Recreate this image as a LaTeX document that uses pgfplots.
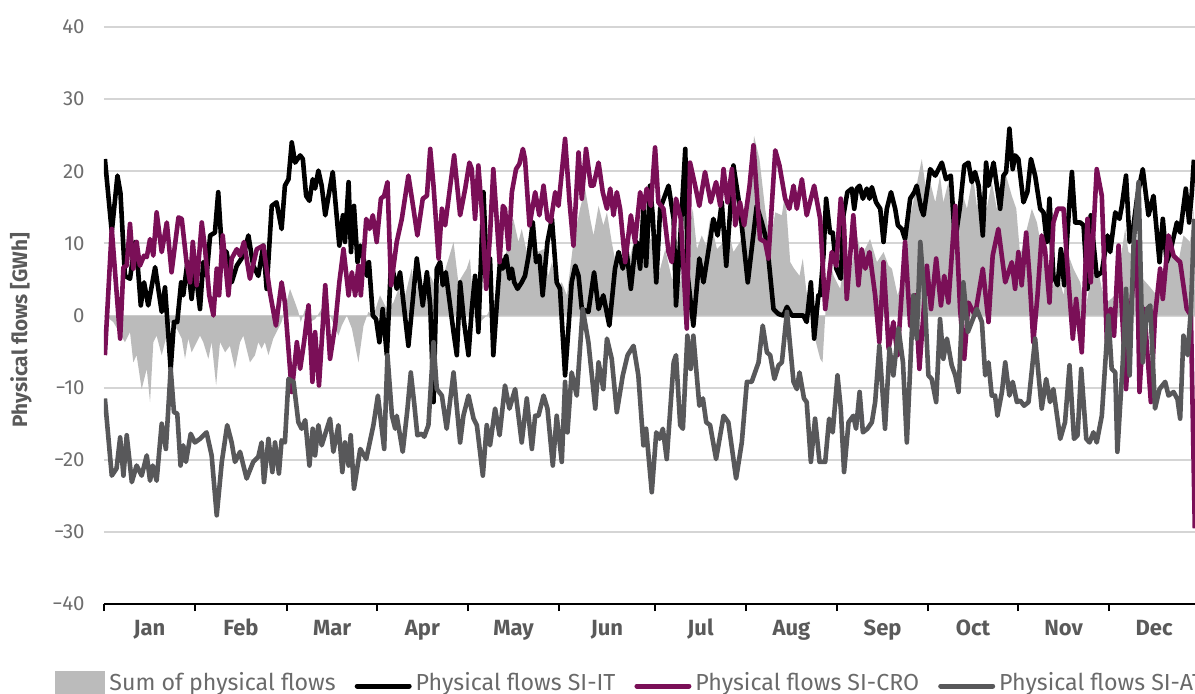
\documentclass[border=0pt]{standalone}
\usepackage{fontspec}
\setmainfont{Fira Sans}
\usepackage{pgfplots}
\pgfplotsset{compat=1.18}
\definecolor{areagray}{HTML}{BBBBBB}
\definecolor{cro}{HTML}{7A0F57}
\definecolor{atgray}{HTML}{58585A}
\definecolor{gridgray}{HTML}{D5D5D5}
\definecolor{ticktext}{HTML}{6E6E6E}
\definecolor{labtext}{HTML}{5A5A5A}
\definecolor{legtext}{HTML}{6A6A6A}
\begin{document}
\begin{tikzpicture}
\begin{axis}[
 scale only axis, width=545.7pt, height=288.5pt,
 xmin=0, xmax=365, ymin=-40, ymax=40,
 axis x line*=bottom, axis y line*=left,
 y axis line style={draw=none},
 x axis line style={black, line width=1pt},
 ytick={-40,-30,...,40},
 yticklabels={−40,−30,−20,−10,0,10,20,30,40},
 ymajorgrids, major grid style={gridgray, line width=1pt},
 xtick={15.2,45.8,76.3,106.5,137.0,168.2,199.5,229.9,260.4,290.6,320.9,351.2},
 xticklabels={Jan,Feb,Mar,Apr,May,Jun,Jul,Aug,Sep,Oct,Nov,Dec},
 minor xtick={0,30.43,61.2,91.3,121.74,152.17,184.28,214.72,245.15,275.59,305.69,336.12},
 tick align=outside, major tick length=0pt, minor tick length=3.5pt,
 minor tick style={black, line width=0.9pt},
 yticklabel style={anchor=east, inner sep=0pt, xshift=-9.5pt, font=\fontsize{10.2}{12}\selectfont, text=ticktext},
 xticklabel style={anchor=base, inner sep=0pt, yshift=-15.5pt, font=\fontsize{11}{12}\selectfont\bfseries, text=labtext},
 legend style={at={(0,0)}, anchor=west, xshift=-24.5pt, yshift=-39.5pt, draw=none, fill=none, inner sep=0pt,
   font=\fontsize{11.6}{13}\selectfont, text=legtext, legend columns=4,
   /tikz/every even column/.append style={column sep=7.5pt}},
 legend cell align=left,
]
\addplot[fill=areagray, draw=none,
  legend image code/.code={\fill[areagray] (0pt,-6pt) rectangle (25pt,6pt);}] coordinates {
(0,0) (0.3,0) (3.1,-0.9) (7.0,-3.7) (8.7,-2.3) (9.8,-6.5) (10.9,-5.5) (12.6,-10.2) (14.3,-7.4) (15.4,-12.0) (16.5,-3.7) (17.6,-2.8) (19.3,-5.5) (20.4,-3.7) (22.1,-0.9) (24.3,-1.8) (26.0,-3.2) (27.1,-6.0) (28.2,-3.2) (29.3,-5.1) (31.0,-3.7) (32.1,-2.8) (33.2,-3.7) (34.9,-6.0) (36.0,-3.7) (37.5,-9.7) (38.8,-3.7) (40.5,-5.1) (42.1,-4.2) (43.8,-7.4) (45.5,-3.7) (46.6,-2.8) (48.8,-6.5) (50.5,-5.5) (51.6,-3.7) (52.7,-4.6) (53.8,-3.7) (55.0,-5.5) (56.6,-3.2) (58.3,-1.8) (59.4,-0.9) (60.5,0.9) (62.2,3.7) (63.9,1.8) (65.0,0.5) (65.8,-0.9) (67.3,0.9) (68.9,-0.9) (70.6,-0.5) (72.8,0.9) (75.6,0) (78.4,-2.8) (79.5,-1.4) (81.2,0) (82.9,-1.8) (85.1,-6.5) (86.8,-1.4) (88.4,0.5) (90.1,0) (92.3,2.8) (94.6,0.9) (96.8,1.8) (98.5,3.7) (99.9,1.4) (102.9,6.5) (104.1,2.8) (105.7,5.5) (107.4,1.8) (109.1,5.5) (111.3,3.7) (113.5,5.5) (116.9,10.2) (118.5,4.6) (121.3,6.5) (122.4,7.9) (123.6,0.9) (125.8,-0.9) (128.0,0) (131.4,2.8) (136.9,13.4) (138.6,10.2) (139.7,12.0) (141.4,8.8) (143.1,13.4) (145.0,8.8) (147.0,9.2) (148.6,5.5) (149.8,7.4) (151.4,3.7) (153.1,4.6) (154.8,2.8) (157.0,10.2) (159.2,14.8) (160.9,17.6) (162.6,13.4) (163.7,11.1) (165.4,15.2) (167.0,12.5) (168.2,14.3) (169.8,10.2) (171.5,6.5) (173.5,8.8) (174.8,6.0) (177.1,10.2) (179.3,7.9) (181.5,11.1) (183.8,10.2) (185.4,5.5) (187.7,9.2) (189.9,5.1) (192.7,4.6) (196.9,14.8) (198.3,9.2) (199.9,11.1) (201.4,9.7) (202.7,13.4) (205.0,9.2) (207.2,10.2) (208.8,12.0) (210.5,8.8) (212.7,10.2) (215.0,13.4) (216.6,20.3) (217.4,24.9) (219.2,21.7) (221.1,14.8) (222.8,10.2) (224.5,14.3) (226.7,13.9) (227.8,17.1) (229.5,7.4) (230.8,6.5) (232.6,5.5) (233.7,7.9) (234.8,3.7) (236.0,0.9) (237.8,-3.2) (239.5,-6.0) (240.3,-6.5) (241.2,0) (242.6,7.9) (244.0,5.5) (246.2,3.7) (247.9,8.3) (249.5,5.5) (251.8,11.1) (253.4,8.3) (256.2,10.6) (258.5,7.4) (260.7,8.8) (262.4,6.9) (263.5,6.5) (265.4,2.8) (267.4,5.5) (269.0,12.5) (271.3,17.1) (273.5,21.7) (275.0,17.1) (276.3,18.5) (278.0,15.7) (279.6,19.4) (280.7,15.7) (282.4,18.5) (283.9,14.8) (285.2,12.9) (286.9,17.1) (288.6,14.8) (290.6,19.4) (291.9,15.2) (293.6,17.1) (295.2,14.8) (296.9,18.5) (298.6,14.8) (300.3,16.6) (301.7,19.4) (303.6,16.6) (305.1,14.8) (306.4,8.3) (308.1,11.1) (310.3,14.8) (312.0,12.9) (314.0,8.3) (316.2,1.8) (318.1,5.5) (319.8,4.6) (320.9,2.8) (322.6,8.3) (324.2,6.5) (326.5,4.6) (328.1,0.5) (329.8,4.6) (332.0,7.4) (333.7,3.7) (335.4,1.8) (338.2,2.8) (339.8,7.4) (341.5,12.0) (342.6,8.8) (344.3,8.3) (346.5,5.5) (349.3,4.2) (352.1,2.8) (354.3,5.5) (357.1,9.2) (359.3,7.4) (361.0,11.1) (363.2,10.2) (364.4,14.8) (364.9,0)
} \closedcycle;
\addlegendentry{Sum of physical flows}
\addplot[black, line width=2.3pt, line join=round,
  legend image code/.code={\draw[black, line width=2.5pt, line cap=round] (0pt,-1.5pt) -- (26pt,-1.5pt);}] coordinates {
(0.3,21.7) (2.6,11.6) (4.5,19.4) (5.5,17) (7.0,5.5) (8.7,5.1) (10.4,10.2) (11.1,7.9) (12.3,1.4) (13.4,4.6) (14.8,1.4) (17.1,6.7) (19.3,0.5) (20.4,3.9) (22.3,-7.4) (23.4,-0.9) (24.5,-0.9) (25.8,4.6) (26.5,2.8) (27.9,7.4) (29.3,2.3) (30.4,6.9) (32.1,0.9) (33.2,7.4) (34.3,5.5) (35.5,11.1) (37.1,11.5) (38.2,17.1) (39.4,9.2) (41.0,8.8) (42.7,4.6) (44.4,6.9) (46.6,8.3) (48.3,11.1) (49.9,6.9) (51.6,5.5) (53.3,9.7) (54.4,3.7) (56.1,15.2) (57.7,15.7) (59.4,12.0) (60.5,18.0) (61.7,18.9)
(62.8,24.0) (63.9,21.2) (65.6,22.2) (66.5,21.7) (67.6,16.6) (68.7,15.9) (69.8,18.9) (70.6,17.6) (71.7,20.1) (72.8,18.0) (74.0,13.9) (75.1,16.6) (76.5,19.9) (77.6,14.8) (78.7,9.7) (79.9,13.9) (80.6,10.2) (81.8,18.5) (82.6,8.8) (83.6,15.2) (84.8,7.4) (85.7,9.7) (86.8,7.9) (87.9,5.5) (88.6,7.4) (89.9,0) (91.0,-0.5) (92.1,-3.7) (93.2,0.9) (94.6,-5.5) (96.0,7.4) (97.9,3.7) (99.0,6.0) (100.4,0.9) (101.8,-4.2) (104.6,7.9) (106.6,1.4) (108.0,6.0) (109.1,1.4) (110.2,-12.0) (111.3,6.5) (112.4,7.4) (113.3,4.2) (114.3,6.0) (116.9,-2.3) (118.0,-5.5)
(119.1,4.6) (120.4,-0.9) (121.9,-5.5) (123.0,0.9) (124.1,5.5) (125.2,-2.3) (126.9,17.1) (128.2,4.2) (129.1,7.9) (130.2,-5.5) (131.4,1.8) (132.5,7.9) (133.4,6.5) (134.5,8.3) (135.6,5.1) (136.4,6.5) (137.2,4.6) (138.3,3.7) (139.7,4.6) (140.8,5.5) (142.0,8.3) (143.4,12.9) (144.5,7.4) (145.6,8.3) (146.7,2.8) (148.3,10.2) (149.8,13.4) (151.4,4.6) (152.5,3.7) (154.2,-8.3) (155.0,-3.7) (156.4,4.6) (157.6,6.9) (158.7,5.5) (159.8,0.9) (162.0,0.5) (163.9,6.0) (165.4,0.9) (167.0,2.8) (169.0,-1.4) (170.9,6.5) (172.1,8.8) (173.5,6.5) (174.8,8.8) (176.2,3.7) (177.6,9.2) (178.2,10.2) (179.3,6.5)
(180.4,14.8) (181.3,6.9) (182.6,18.0) (183.5,13.9) (184.7,4.6) (186.0,14.8) (188.8,18.0) (190.5,13.4) (191.3,1.4) (192.5,9.2) (194.4,23.1) (195.2,5.5) (197.1,-1.4) (199.1,7.9) (200.5,4.6) (203.8,13.4) (205.2,11.1) (206.6,15.7) (208.1,6.9) (210.5,20.8) (212.7,14.8) (215.3,4.6) (216.6,9.2) (218.3,15.2) (220.0,12.9) (221.7,10.2) (223.9,0.9) (225.6,0.2) (227.2,0) (228.4,1.2) (230.0,0) (232.3,0) (233.9,0) (235.0,-0.9) (236.4,4.6) (237.5,-3.2) (238.9,2.8)
(239.5,2.8) (240.6,8.3) (241.5,16.2) (242.8,11.5) (243.7,11.5) (244.9,6.5) (246.4,5.1) (247.3,13.9) (248.6,17.1) (250.1,17.6) (250.9,14.8) (251.8,17.6) (252.7,18.0) (253.8,16.2) (255.1,17.6) (256.0,16.2) (256.8,17.8) (258.2,15.7) (259.6,14.8) (260.7,10.2) (261.8,14.8) (263.2,17.1) (264.6,14.8) (265.5,12.5) (266.8,12.0) (267.9,10.6) (269.6,16.2) (271.0,17.1) (271.8,18.0) (273.3,14.8) (274.1,13.9) (276.3,20.3) (278.0,19.4) (280.2,21.2) (281.6,18.9) (283.2,19.4) (284.6,10.2) (286.3,15.2) (287.7,20.8) (289.1,21.2) (290.2,18.5) (291.3,19.9) (292.5,18.0) (293.9,11.1) (295.0,21.2) (295.8,18.0) (297.5,21.2) (299.7,14.8)
(300.8,19.4) (301.7,19.9) (302.8,25.9) (303.9,20.3) (304.7,22.2) (305.8,21.7) (307.5,15.7) (308.8,17.1) (310.0,21.7) (311.4,19.4) (313.1,14.8) (314.2,14.3) (315.3,10.2) (316.2,16.2) (317.5,5.5) (318.9,4.2) (320.0,9.2) (321.1,4.2) (322.6,13.9) (323.7,19.9) (324.8,12.9) (326.5,12.9) (327.6,12.5) (328.9,3.7) (330.0,13.9) (332.0,5.5) (333.7,6.0) (335.6,11.1) (336.5,8.8) (338.2,14.3) (339.6,13.4) (340.4,15.2) (341.8,19.4) (343.0,10.2) (344.3,12.5) (345.6,16.6) (347.4,20.3) (349.3,13.9) (351.0,16.6) (353.0,7.4) (354.1,13.4) (355.4,7.4) (356.8,9.2) (358.8,12.9) (359.9,11.5) (361.8,17.6) (362.9,12.9) (363.8,17.0) (364.5,21.6)
};
\addlegendentry{Physical flows SI-IT}
\addplot[cro, line width=2.3pt, line join=round,
  legend image code/.code={\draw[cro, line width=2.5pt, line cap=round] (0pt,-1.5pt) -- (26pt,-1.5pt);}] coordinates {
(0.3,-5.5) (2.6,12.0) (5.4,-3.2) (6.5,6.7) (7.6,6.9) (8.7,12.7) (9.8,6.5) (10.9,10.2) (12.0,6.9) (13.4,8.3) (14.3,8.1) (15.4,10.6) (16.5,8.3) (17.6,14.3) (19.3,8.8) (21.0,12.9) (22.6,6.0) (24.9,13.6) (26.0,13.4) (27.6,7.4) (28.8,4.6) (29.7,10.2) (31.0,4.2) (32.7,12.9) (33.8,9.2) (35.2,2.8) (36.6,0) (37.7,6.5) (38.5,2.8) (39.7,11.1) (41.6,2.8) (42.7,7.9) (44.4,9.2) (45.5,8.3) (46.8,10.2) (48.8,5.1) (51.1,9.2) (53.3,9.7) (55.5,3.2) (57.5,-1.4) (59.4,4.6) (60.5,1.8)
(62.8,-10.6) (64.5,-3.7) (65.6,-7.4) (66.9,-3.7) (68.4,1.4) (69.7,-9.2) (70.6,-2.3) (71.9,-9.7) (74.0,4.2) (75.6,-6.0) (77.3,-1.4) (78.7,4.6) (80.1,9.2) (81.8,2.8) (82.9,6.0) (84.0,2.8) (85.1,6.9) (85.9,2.8) (87.7,13.4) (88.8,12.0) (89.9,13.9) (91.2,10.2) (92.6,16.2) (93.7,16.6) (94.8,18.5) (96.0,4.2) (97.9,10.2) (99.6,13.4) (101.8,19.4) (103.5,14.8) (104.8,11.1) (106.6,16.2) (108.0,16.6) (109.1,23.1) (110.2,18.0) (111.9,7.9) (113.0,14.8) (114.1,12.5) (117.1,22.2) (119.1,13.9)
(120.8,17.6) (122.2,21.2) (123.0,20.3) (124.1,13.4) (125.2,20.8) (126.3,14.8) (127.8,3.7) (129.1,11.1) (130.2,20.3) (132.3,7.4) (133.4,15.2) (134.1,14.8) (135.3,9.2) (136.4,17.1) (137.8,20.3) (138.9,21.0) (140.1,23.1) (140.8,21.7) (142.3,12.5) (144.2,17.1) (145.6,13.9) (147.0,18.0) (148.3,13.4) (149.4,13.0) (150.9,17.1) (152.0,15.2) (154.2,24.5) (155.7,15.7) (157.0,9.7) (158.7,22.6) (159.8,16.2) (161.2,23.1) (162.8,18.0) (163.7,18.0) (165.4,21.2) (166.8,17.1) (168.2,14.8) (169.3,17.6) (170.4,13.9) (171.5,17.1) (172.6,14.8) (174.3,7.4) (176.2,13.9) (177.6,10.2) (179.3,17.1) (180.4,14.8) (181.5,17.6)
(182.9,15.2) (184.3,23.3) (185.4,15.7) (187.1,14.8) (188.8,8.8) (189.9,7.4) (191.3,16.2) (192.9,13.4) (194.9,-1.8) (196.0,21.2) (197.7,18.0) (199.1,15.2) (201.0,19.9) (202.9,15.7) (204.7,18.5) (206.1,15.2) (207.2,20.3) (208.5,15.7) (210.0,20.3) (211.1,12.5) (212.7,15.7) (214.1,12.5) (215.9,18.0) (217.2,23.6) (219.4,10.6) (221.1,10.2) (222.2,7.9) (224.5,22.9) (225.9,20.8) (227.8,16.2) (229.2,14.8) (230.6,18.0) (231.7,14.8) (233.4,18.9) (235.0,13.9) (237.5,18.0) (239.5,13.4) (241.2,0.9)
(243.4,8.8) (244.9,6.9) (246.4,16.2) (247.5,12.5) (248.4,2.3) (250.6,13.9) (252.3,4.2) (253.4,9.2) (254.6,6.5) (256.0,8.8) (257.9,2.8) (259.3,-3.7) (260.7,7.4) (262.4,-4.6) (264.0,-0.9) (265.4,-5.5) (267.9,10.2) (269.6,-1.4) (271.3,2.8) (272.7,-7.4) (275.2,6.9) (276.6,0.9) (278.3,7.9) (279.9,1.4) (281.0,5.5) (282.4,1.8) (284.7,15.2) (286.3,0.9) (287.7,-6.0) (289.1,1.8) (291.3,0) (293.9,6.5) (295.8,-0.9) (297.2,8.3) (299.1,12.0) (301.4,4.6)
(303.6,7.4) (304.7,3.7) (305.8,8.8) (306.9,4.2) (308.4,11.5) (309.5,5.5) (310.8,-3.7) (312.2,2.8) (313.6,11.1) (314.7,9.2) (316.2,1.8) (317.5,12.9) (318.9,14.8) (320.9,14.8) (322.0,7.9) (324.0,-3.2) (325.1,2.3) (327.0,-5.1) (328.9,13.4) (330.0,4.6) (332.0,20.3) (333.7,16.6) (335.4,-3.7) (336.7,0.9) (337.8,-2.8) (339.3,9.7) (341.8,-10.2) (343.4,0.9) (345.4,10.2) (346.3,-10.6) (347.9,0.9) (350.1,-12.0) (351.5,0) (353.2,6.5) (354.1,2.3) (356.0,11.1) (357.7,8.3) (359.9,7.4) (362.1,0.9) (363.5,0) (364.8,-29.5)
};
\addlegendentry{Physical flows SI-CRO}
\addplot[atgray, line width=2.3pt, line join=round,
  legend image code/.code={\draw[atgray, line width=2.5pt, line cap=round] (0pt,-1.5pt) -- (26pt,-1.5pt);}] coordinates {
(0.3,-11.5) (2.6,-22.2) (4.2,-21.2) (5.4,-16.9) (6.5,-22.2) (7.6,-16.6) (9.3,-23.1) (10.9,-20.8) (12.6,-22.2) (14.3,-19.4) (15.4,-22.9) (16.3,-20.8) (17.6,-22.9) (19.3,-15.0) (20.7,-18.5) (22.3,-7.4) (23.4,-13.4) (24.5,-13.6) (25.6,-20.8) (26.5,-18.0) (27.4,-20.3) (29.0,-16.4) (30.4,-17.6) (32.1,-17.1) (34.3,-16.2) (36.0,-19.4) (37.7,-27.7) (39.4,-20.3) (41.2,-15.2) (42.7,-17.6) (43.8,-20.3) (45.5,-18.9) (47.7,-22.6) (49.9,-20.3) (51.6,-19.6) (52.7,-17.6) (53.5,-23.1) (55.0,-17.1) (56.3,-21.7) (57.2,-17.6) (58.5,-21.9) (59.4,-17.3) (60.5,-17.6) (61.7,-8.8)
(63.4,-9.2) (65.0,-14.8) (66.1,-15.7) (67.3,-14.5) (68.7,-20.8) (69.8,-15.7) (70.6,-19.4) (71.7,-15.2) (72.8,-18.0) (75.6,-14.3) (76.7,-18.9) (78.4,-15.2) (79.7,-21.7) (80.6,-17.6) (81.8,-20.8) (82.5,-16.6) (83.6,-24.0) (85.7,-18.5) (87.7,-19.9) (90.1,-15.2) (91.6,-11.1) (93.7,-18.5) (94.8,-5.5) (96.3,-13.9) (97.4,-15.7) (97.9,-13.9) (99.9,-18.9) (101.5,-12.9) (102.6,-7.9) (103.7,-12.0) (104.8,-16.6) (106.3,-16.4) (107.1,-16.8) (108.5,-15.2) (110.2,-3.7) (111.3,-10.2) (113.0,-11.1) (114.6,-15.7) (116.9,-7.9) (119.1,-17.6) (120.2,-13.9)
(121.9,-11.1) (123.6,-14.3) (124.7,-15.2) (126.7,-22.2) (128.0,-15.2) (129.1,-18.0) (130.8,-12.9) (132.3,-16.6) (134.1,-9.7) (135.6,-12.9) (137.5,-10.2) (139.7,-17.6) (141.4,-11.5) (143.1,-18.5) (144.2,-13.9) (145.3,-13.9) (147.0,-11.1) (148.3,-12.9) (150.1,-20.8) (151.4,-13.9) (153.1,-20.3) (154.2,-9.2) (155.0,-16.2) (156.4,-7.9) (158.1,-11.1) (160.1,0.9) (162.0,-3.7) (164.3,-12.9) (165.4,-6.5) (167.0,-10.2) (168.2,-3.2) (169.8,-6.0) (171.5,-13.4) (173.5,-8.3) (175.1,-5.5) (177.1,-4.2) (178.7,-8.3)
(180.4,-18.0) (181.3,-15.7) (183.2,-24.5) (184.7,-16.2) (185.8,-17.1) (186.9,-15.7) (188.2,-19.9) (190.5,-6.5) (191.3,-5.5) (192.7,-15.2) (193.6,-15.7) (195.1,-2.8) (196.2,-7.4) (197.1,-2.8) (199.1,-12.5) (200.3,-11.5) (201.4,-14.8) (202.7,-15.2) (204.7,-19.9) (207.2,-13.9) (208.8,-14.8) (211.4,-22.6) (213.3,-17.6) (215.0,-9.2) (216.6,-9.2) (218.9,-6.5) (220.3,-1.4) (221.7,-5.1) (222.8,-5.5) (224.2,-8.8) (225.6,-6.9) (226.7,-6.5) (228.4,0.5) (230.6,-9.2) (231.7,-10.2) (232.6,-7.9) (234.1,-11.5) (235.0,-12.0) (236.4,-20.3) (237.8,-14.3) (239.3,-20.3) (241.2,-20.3) (242.5,-14.3)
(243.7,-16.2) (245.3,-8.3) (246.4,-12.9) (247.5,-21.7) (249.0,-14.8) (250.6,-13.9) (251.5,-15.7) (252.7,-10.6) (253.8,-16.2) (255.3,-15.7) (256.8,-14.8) (257.9,-12.0) (259.3,-4.2) (261.2,-15.7) (262.7,-4.6) (264.0,-8.3) (265.7,-1.8) (267.2,-6.5) (268.5,-17.6) (270.7,2.8) (271.8,-3.2) (273.0,10.2) (274.6,1.4) (275.7,-8.3) (276.8,-8.8) (278.3,-12.0) (279.6,-0.5) (280.7,-6.0) (281.9,-3.2) (283.5,-6.9) (284.7,-8.3) (285.8,-10.6) (287.4,4.6) (288.9,-2.3) (290.2,-0.9) (291.9,0.9) (293.6,-0.9) (294.7,-8.3) (295.8,-6.5) (296.9,-11.1) (298.0,-11.1) (298.8,-13.9) (300.3,-10.6) (301.4,-6.5)
(302.8,-11.1) (303.9,-9.2) (305.3,-12.0) (306.4,-11.8) (307.7,-12.5) (309.2,-12.0) (311.4,-3.2) (313.6,-12.9) (315.1,-8.8) (316.4,-12.0) (317.5,-10.2) (319.8,-17.1) (321.4,-14.8) (322.9,-6.9) (324.4,-17.1) (325.6,-16.6) (326.8,-7.4) (328.5,-17.1) (329.6,-17.6) (330.9,-16.2) (332.0,-17.6) (333.7,-13.9) (335.9,0) (337.0,-7.4) (338.2,-7.9) (338.9,-18.9) (340.7,-6.5) (341.8,3.7) (343.0,-8.3) (344.3,9.7) (346.0,18.5) (347.4,-6.5) (348.8,0.9) (349.9,1.4) (351.5,-12.9) (353.0,-10.2) (354.9,-9.2) (356.0,-11.1) (357.7,-10.6) (359.0,-11.6) (359.9,-14.3) (361.0,-2.8) (362.4,-5.5) (363.5,0.9) (364.6,13.4)
};
\addlegendentry{Physical flows SI-AT}
\end{axis}
\node[rotate=90, font=\fontsize{10.4}{12}\selectfont\bfseries, text=labtext] at (-41.5pt,137pt) {Physical flows [GWh]};
\pgfresetboundingbox
\path[use as bounding box] (-52pt,-44.5pt) rectangle (545.5pt,302pt);
\end{tikzpicture}
\end{document}
